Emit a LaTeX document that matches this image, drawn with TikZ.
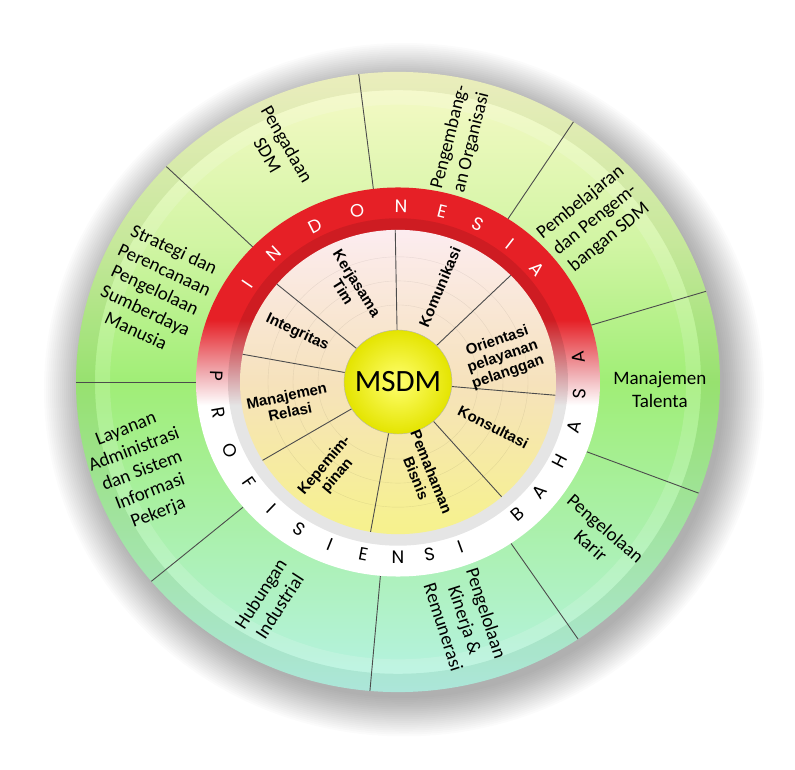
\documentclass[tikz,border=0pt]{standalone}
\usepackage{fontspec}
\setmainfont{Carlito}
\newfontfamily\innerfont{Liberation Sans}
\newfontfamily\ringfont{Poppins}

\definecolor{ringred}{RGB}{230,32,38}
\definecolor{ringpink}{RGB}{240,175,180}
\definecolor{outeryellow}{RGB}{248,250,200}
\definecolor{outergreen}{RGB}{160,238,118}
\definecolor{outeraqua}{RGB}{182,243,230}
\definecolor{innerpink}{RGB}{252,236,240}
\definecolor{innerpeach}{RGB}{246,226,188}
\definecolor{inneryellow}{RGB}{246,242,140}
\definecolor{msdmlight}{RGB}{255,255,110}
\definecolor{msdmyellow}{RGB}{228,228,0}

\pgfdeclareverticalshading{outershade}{100bp}{color(0bp)=(outeraqua); color(25bp)=(outeraqua); color(40bp)=(outeraqua!40!outergreen); color(50bp)=(outergreen); color(61bp)=(outeryellow!55!outergreen); color(75bp)=(outeryellow); color(100bp)=(outeryellow)}
\pgfdeclareverticalshading{ringshade}{100bp}{color(0bp)=(white); color(25bp)=(white); color(47bp)=(white); color(51bp)=(ringpink); color(58bp)=(ringred); color(75bp)=(ringred); color(100bp)=(ringred)}
\pgfdeclareverticalshading{innershade}{100bp}{color(0bp)=(inneryellow); color(25bp)=(inneryellow); color(50bp)=(innerpeach); color(75bp)=(innerpink); color(100bp)=(innerpink)}

\tikzset{
  outerlabel/.style={font=\fontsize{19}{22.5}\selectfont, text=black, align=center},
  innerlabel/.style={font=\innerfont\bfseries\fontsize{15}{16.5}\selectfont, align=center},
  ringletter/.style={font=\ringfont\fontsize{18}{20}\selectfont},
  divider/.style={draw=black!70, line width=0.9pt},
  msdm/.style={font=\fontsize{31}{33}\selectfont},
}

\begin{document}
\begin{tikzpicture}[x=1pt,y=1pt]
\useasboundingbox[fill=white] (-398,-388) rectangle (397,382);
\begin{scope}[yscale=0.963]
% soft shadow
\foreach \r in {0,2,...,40}
  \fill[black, opacity=0.016] (6,-8) circle[radius=320+\r];
% outer ring
\shade[shading=outershade] (0,0) circle[radius=322];
\fill[black, opacity=0.05, even odd rule] (0,0) circle[radius=322] circle[radius=303];
\fill[white, opacity=0.15, even odd rule] (0,0) circle[radius=303] circle[radius=288];
\foreach \a in {97,57,17,-21,-56,-95,-140,180,136}
  \draw[divider] (\a:202) -- (\a:322);
% language ring
\shade[shading=ringshade] (0,0) circle[radius=202];
\fill[black, opacity=0.1] (0,0) circle[radius=170];
\foreach \ch/\a in {I/146,N/133,D/117,O/103,N/89,E/76,S/64,I/52,A/40}
  \node[ringletter, text=white, rotate=\a-90] (top-\a) at (\a:182) {\ch};
\foreach \ch/\a in {P/178,R/190,O/203,F/215,I/226,S/237,I/248,E/259,N/270,S/280,I/290,B/311,A/321,H/333,A/345,S/356,A/368}
  \node[ringletter, rotate=\a+90] (bot-\a) at (\a:182) {\ch};
% competencies
\shade[shading=innershade] (0,0) circle[radius=158];
\foreach \r in {80,105,130}
  \draw[black, opacity=0.08] (0,0) circle[radius=\r];
\foreach \a in {91,44.5,-5,-49,-100,211,169.5,140}
  \draw[divider] (\a:54) -- (\a:158);
\shadedraw[inner color=msdmlight, outer color=msdmyellow, draw=black!30] (0,0) circle[radius=54];
\node[msdm] (msdm) at (0,0) {MSDM};

\node[innerlabel, rotate=-58] (kerjasama) at (116:109) {Kerjasama\\Tim};
\node[innerlabel, rotate=67] (komunikasi) at (67:107) {Komunikasi};
\node[innerlabel, rotate=19] (orientasi) at (14:108) {Orientasi\\pelayanan\\pelanggan};
\node[innerlabel, rotate=-27] (konsultasi) at (-26:106) {Konsultasi};
\node[innerlabel, rotate=-68] (pemahaman) at (-75:100) {Pemahaman\\Bisnis};
\node[innerlabel, rotate=50] (kepemimpinan) at (234:114) {Kepemim-\\pinan};
\node[innerlabel, rotate=12] (relasi) at (191.7:112) {Manajemen\\Relasi};
\node[innerlabel, rotate=-25] (integritas) at (153:113) {Integritas};

\node[outerlabel, rotate=-60] (pengadaan) at (116.5:270) {Pengadaan\\SDM};
\node[outerlabel, rotate=76] (organisasi) at (76:259) {Pengembang-\\an Organisasi};
\node[outerlabel, rotate=39] (pembelajaran) at (40.5:259) {Pembelajaran\\dan Pengem-\\bangan SDM};
\node[outerlabel] (talenta) at (-1.7:262) {Manajemen\\Talenta};
\node[outerlabel, rotate=-41] (karir) at (-38.8:257) {Pengelolaan\\Karir};
\node[outerlabel, rotate=-72] (kinerja) at (-74.8:256) {Pengelolaan\\Kinerja \&\\Remunerasi};
\node[outerlabel, rotate=57] (hubungan) at (240.5:260) {Hubungan\\Industrial};
\node[outerlabel, rotate=21] (layanan) at (200:272) {Layanan\\Administrasi\\dan Sistem\\Informasi\\Pekerja};
\node[outerlabel, rotate=-25] (strategi) at (158.5:261) {Strategi dan\\Perencanaan\\Pengelolaan\\Sumberdaya\\Manusia};
\end{scope}
\end{tikzpicture}
\end{document}
